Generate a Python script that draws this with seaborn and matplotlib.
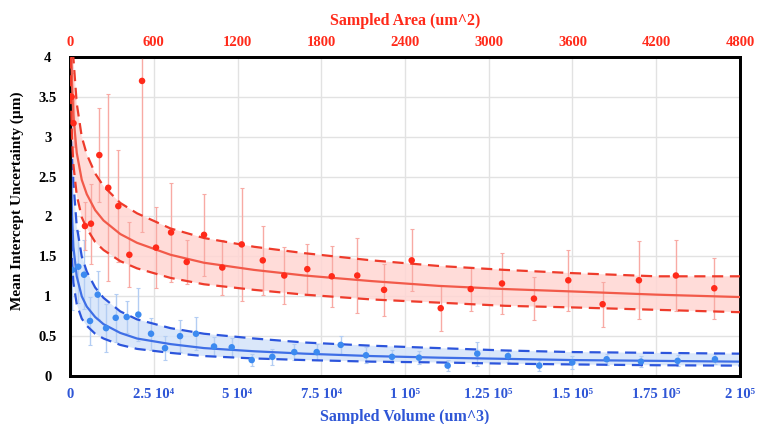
import numpy as np
import pandas as pd
import seaborn as sns
import matplotlib.pyplot as plt

# --- datos ---
# serie roja: area muestreada (um^2) -> eje superior
area_pts = [12, 25, 107, 150, 210, 274, 346, 425, 516, 616, 724, 836, 960, 1091, 1230,
            1381, 1535, 1700, 1875, 2058, 2250, 2448, 2656, 2871, 3095, 3324, 3570,
            3816, 4076, 4341, 4616]
area_unc = [3.50, 3.17, 1.88, 1.91, 2.77, 2.36, 2.13, 1.52, 3.70, 1.61, 1.80, 1.43, 1.77,
            1.36, 1.65, 1.45, 1.26, 1.34, 1.25, 1.26, 1.08, 1.45, 0.85, 1.09, 1.16, 0.97,
            1.20, 0.90, 1.20, 1.26, 1.10]
area_err = [0.30, 0.30, 0.30, 0.50, 0.59, 1.17, 0.70, 0.41, 1.90, 0.51, 0.62, 0.28, 0.51,
            0.34, 0.71, 0.43, 0.36, 0.32, 0.38, 0.47, 0.33, 0.39, 0.28, 0.28, 0.38, 0.27,
            0.38, 0.28, 0.49, 0.45, 0.38]

# serie azul: volumen muestreado (um^3) -> eje inferior
vol_pts = [30, 690, 2480, 4180, 5970, 8270, 10750, 13640, 16920, 20390, 24180, 28360,
           32840, 37610, 42990, 48270, 54240, 60390, 66950, 73640, 80810, 88360, 96120,
           104180, 112740, 121580, 130740, 140090, 149940, 160200, 170440, 181400, 192530]
vol_unc = [3.86, 1.33, 1.37, 1.27, 0.69, 1.02, 0.60, 0.73, 0.74, 0.77, 0.53, 0.35, 0.50,
           0.53, 0.37, 0.36, 0.20, 0.24, 0.30, 0.30, 0.39, 0.26, 0.24, 0.23, 0.13, 0.28,
           0.25, 0.13, 0.17, 0.21, 0.18, 0.19, 0.21]
vol_err = [0.10, 0.50, 0.45, 0.43, 0.30, 0.30, 0.30, 0.30, 0.20, 0.33, 0.20, 0.15, 0.20,
           0.21, 0.12, 0.12, 0.08, 0.10, 0.10, 0.10, 0.11, 0.10, 0.08, 0.08, 0.07, 0.15,
           0.08, 0.07, 0.08, 0.07, 0.07, 0.07, 0.06]

# curvas de ajuste
area_fit_x = [2.4, 7.2, 14.4, 24, 48, 84, 120, 180, 240, 360, 480, 720, 960, 1320, 1680,
              2160, 2640, 3120, 3600, 4200, 4800]
red_fit = [5.48, 4.28, 3.67, 3.27, 2.80, 2.46, 2.28, 2.08, 1.95, 1.78, 1.67, 1.52, 1.42,
           1.33, 1.26, 1.19, 1.13, 1.09, 1.06, 1.02, 0.99]
red_hi = [6.69, 5.22, 4.48, 3.99, 3.42, 3.00, 2.78, 2.54, 2.38, 2.17, 2.04, 1.85, 1.73,
          1.62, 1.54, 1.45, 1.38, 1.33, 1.29, 1.25, 1.25]
red_lo = [4.44, 3.47, 2.97, 2.65, 2.27, 1.99, 1.85, 1.68, 1.58, 1.44, 1.35, 1.23, 1.15,
          1.08, 1.02, 0.96, 0.92, 0.88, 0.86, 0.83, 0.80]

vol_fit_x = [100, 300, 600, 1000, 2000, 3500, 5000, 7500, 10000, 15000, 20000, 30000,
             40000, 55000, 70000, 90000, 110000, 130000, 150000, 175000, 200000]
blue_fit = [4.22, 2.67, 2.01, 1.62, 1.25, 1.00, 0.87, 0.74, 0.65, 0.54, 0.47, 0.40, 0.35,
            0.31, 0.28, 0.25, 0.23, 0.215, 0.20, 0.19, 0.18]
blue_hi = [6.33, 4.00, 3.02, 2.43, 1.88, 1.50, 1.31, 1.11, 0.98, 0.81, 0.71, 0.60, 0.53,
           0.47, 0.42, 0.38, 0.35, 0.32, 0.30, 0.29, 0.28]
blue_lo = [3.04, 1.92, 1.45, 1.17, 0.90, 0.72, 0.63, 0.53, 0.47, 0.39, 0.34, 0.29, 0.25,
           0.22, 0.20, 0.18, 0.17, 0.155, 0.145, 0.135, 0.13]

vol_ticks = [0, 25000, 50000, 75000, 100000, 125000, 150000, 175000, 200000]
vol_labels = ["0", "2.5 10⁴", "5 10⁴", "7.5 10⁴", "1 10⁵", "1.25 10⁵", "1.5 10⁵",
              "1.75 10⁵", "2 10⁵"]
area_ticks = [0, 600, 1200, 1800, 2400, 3000, 3600, 4200, 4800]
y_ticks = [0, 0.5, 1, 1.5, 2, 2.5, 3, 3.5, 4]

ROJO, ROJO_LINEA, ROJO_DASH, ROJO_ERR, ROJO_FILL = "#ff2a1a", "#f25a4a", "#ee3b2b", "#f8aaa4", "#ffd6d3"
AZUL, AZUL_LINEA, AZUL_DASH, AZUL_ERR, AZUL_FILL = "#3c8af0", "#3f6fe6", "#2c55dc", "#b3cdf3", "#d4e3fa"
AZUL_TXT = "#2f56d6"

sns.set_theme(style="whitegrid")
plt.rcParams['font.family'] = ['Liberation Serif', 'DejaVu Serif']
plt.rcParams['font.weight'] = 'bold'

fig = plt.figure(figsize=(7.57, 4.24), dpi=100)
ax = fig.add_axes([0.0925, 0.1132, 0.885, 0.7524])
ax2 = ax.twiny()

df_rf = pd.DataFrame({"x": area_fit_x, "y": red_fit, "hi": red_hi, "lo": red_lo})
df_bf = pd.DataFrame({"x": vol_fit_x, "y": blue_fit, "hi": blue_hi, "lo": blue_lo})
df_rp = pd.DataFrame({"x": area_pts, "y": area_unc, "e": area_err})
df_bp = pd.DataFrame({"x": vol_pts, "y": vol_unc, "e": vol_err})

# --- serie azul (volumen) ---
ax.fill_between(df_bf["x"], df_bf["lo"], df_bf["hi"], color=AZUL_FILL, alpha=0.85, lw=0, zorder=1)
ax.errorbar(df_bp["x"], df_bp["y"], yerr=df_bp["e"], fmt="none", ecolor=AZUL_ERR,
            elinewidth=1, capsize=1.5, capthick=0.8, zorder=2)
sns.lineplot(data=df_bf, x="x", y="y", ax=ax, color=AZUL_LINEA, lw=1.6, zorder=3)
sns.lineplot(data=df_bf, x="x", y="hi", ax=ax, color=AZUL_DASH, lw=1.6, ls=(0, (5, 3)), zorder=3)
sns.lineplot(data=df_bf, x="x", y="lo", ax=ax, color=AZUL_DASH, lw=1.6, ls=(0, (5, 3)), zorder=3)
sns.scatterplot(data=df_bp, x="x", y="y", ax=ax, color=AZUL, s=22, edgecolor="none", zorder=4)

# --- serie roja (area) ---
ax2.fill_between(df_rf["x"], df_rf["lo"], df_rf["hi"], color=ROJO_FILL, alpha=0.85, lw=0, zorder=1)
ax2.errorbar(df_rp["x"], df_rp["y"], yerr=df_rp["e"], fmt="none", ecolor=ROJO_ERR,
             elinewidth=1, capsize=1.5, capthick=0.8, zorder=2)
sns.lineplot(data=df_rf, x="x", y="y", ax=ax2, color=ROJO_LINEA, lw=1.6, zorder=3)
sns.lineplot(data=df_rf, x="x", y="hi", ax=ax2, color=ROJO_DASH, lw=1.6, ls=(0, (5, 3)), zorder=3)
sns.lineplot(data=df_rf, x="x", y="lo", ax=ax2, color=ROJO_DASH, lw=1.6, ls=(0, (5, 3)), zorder=3)
sns.scatterplot(data=df_rp, x="x", y="y", ax=ax2, color=ROJO, s=22, edgecolor="none", zorder=4)

# ejes
ax.set_xlim(0, 200000)
ax2.set_xlim(0, 4800)
ax.set_ylim(0, 4)
ax2.set_ylim(0, 4)

ax.set_xticks(vol_ticks)
ax.set_xticklabels(vol_labels, color=AZUL_TXT, fontsize=10.5, fontweight="bold")
ax.set_yticks(y_ticks)
ax.set_yticklabels([f"{t:g}" for t in y_ticks], fontsize=10.5, fontweight="bold",
                   color="black", ha="center")
ax2.set_xticks(area_ticks)
ax2.set_xticklabels([str(t) for t in area_ticks], color=ROJO, fontsize=10.5, fontweight="bold")

ax.set_xlabel("Sampled Volume (um^3)", color=AZUL_TXT, fontsize=11.5, fontweight="bold", labelpad=6)
ax.set_ylabel("Mean Intercept Uncertainty (µm)", color="black", fontsize=11, fontweight="bold")
ax.yaxis.set_label_coords(-0.069, 0.55)
ax2.set_xlabel("Sampled Area (um^2)", color=ROJO, fontsize=11.5, fontweight="bold", labelpad=8)

ax.tick_params(axis="x", length=0, pad=8.5)
ax.tick_params(axis="y", length=0, pad=16)
ax2.tick_params(axis="x", length=0, pad=6)

ax.grid(True, color="#e2e2e2", lw=1)
ax2.grid(False)
for a in (ax, ax2):
    for s in a.spines.values():
        s.set_color("black")
        s.set_linewidth(2)

plt.savefig("out.png", dpi=100)
